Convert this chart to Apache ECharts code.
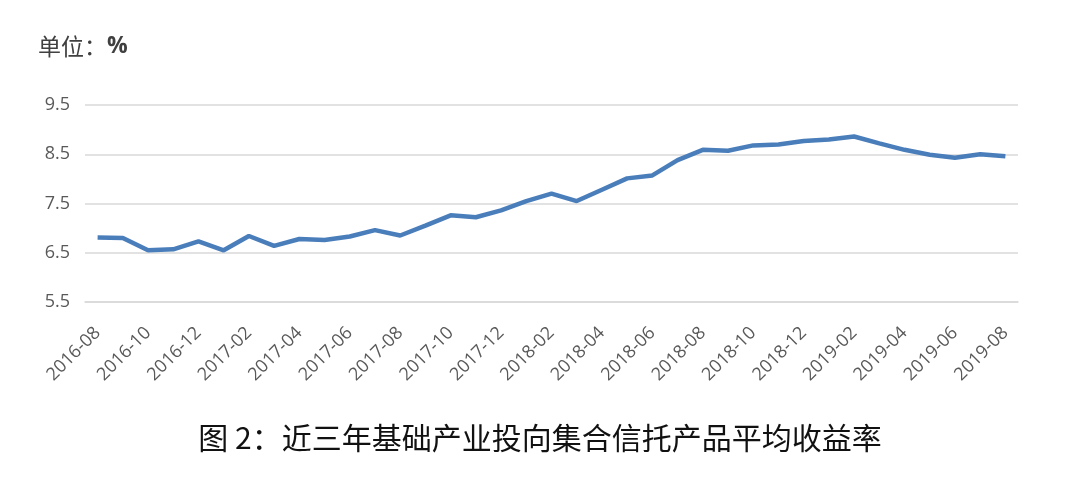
<!DOCTYPE html>
<html>
<head>
<meta charset="utf-8">
<script src="https://cdn.jsdelivr.net/npm/echarts@6/dist/echarts.min.js"></script>
<style>
  html, body { margin: 0; padding: 0; background: #fff; }
  #main { width: 1080px; height: 482px; }
</style>
</head>
<body>
<div id="main"></div>
<script>
var months = [
  '2016-08', '2016-09', '2016-10', '2016-11', '2016-12', '2017-01', '2017-02', '2017-03',
  '2017-04', '2017-05', '2017-06', '2017-07', '2017-08', '2017-09', '2017-10', '2017-11',
  '2017-12', '2018-01', '2018-02', '2018-03', '2018-04', '2018-05', '2018-06', '2018-07',
  '2018-08', '2018-09', '2018-10', '2018-11', '2018-12', '2019-01', '2019-02', '2019-03',
  '2019-04', '2019-05', '2019-06', '2019-07', '2019-08'
];
var yieldRate = [
  6.81, 6.80, 6.55, 6.57, 6.73, 6.55, 6.84, 6.64,
  6.78, 6.76, 6.83, 6.96, 6.85, 7.05, 7.26, 7.22,
  7.36, 7.55, 7.70, 7.55, 7.78, 8.01, 8.07, 8.38,
  8.59, 8.57, 8.68, 8.70, 8.77, 8.80, 8.86, 8.72,
  8.59, 8.49, 8.43, 8.50, 8.46
];
var unitLabel = '单位：';
var unitSign = '%';
var captionText = '图 2：近三年基础产业投向集合信托产品平均收益率';

var chart = echarts.init(document.getElementById('main'));
chart.setOption({
  backgroundColor: '#fff',
  animation: false,
  title: [
    {
      text: '{a|' + unitLabel + '}{b|' + unitSign + '}',
      left: 33, top: 30,
      textStyle: {
        fontWeight: 'normal',
        rich: {
          a: { fontFamily: 'Noto Sans CJK SC', fontSize: 23, fontWeight: 'normal', color: '#404040' },
          b: { fontFamily: 'Open Sans', fontSize: 23, fontWeight: 'bold', color: '#404040' }
        }
      }
    },
    {
      text: captionText,
      left: 'center', top: 418,
      textStyle: { fontFamily: 'Noto Sans CJK SC', fontSize: 30, fontWeight: 'normal', color: '#111' }
    }
  ],
  grid: { left: 85, right: 62, top: 105, bottom: 180 },
  xAxis: {
    type: 'category',
    data: months,
    boundaryGap: true,
    axisLine: { lineStyle: { color: '#d9d9d9', width: 1.5 } },
    axisTick: { show: false },
    axisLabel: {
      interval: 1,
      rotate: 45,
      margin: 28,
      color: '#595959',
      fontSize: 18,
      fontFamily: 'Open Sans'
    }
  },
  yAxis: {
    type: 'value',
    min: 5.5,
    max: 9.5,
    interval: 1,
    axisLine: { show: false },
    axisTick: { show: false },
    axisLabel: {
      margin: 15,
      color: '#595959',
      fontSize: 18,
      fontFamily: 'Open Sans',
      formatter: function (v) { return v.toFixed(1); }
    },
    splitLine: { lineStyle: { color: '#d9d9d9', width: 1.5 } }
  },
  series: [{
    type: 'line',
    data: yieldRate,
    symbol: 'none',
    lineStyle: { color: '#4a7ebb', width: 4.5 }
  }]
});
</script>
</body>
</html>
